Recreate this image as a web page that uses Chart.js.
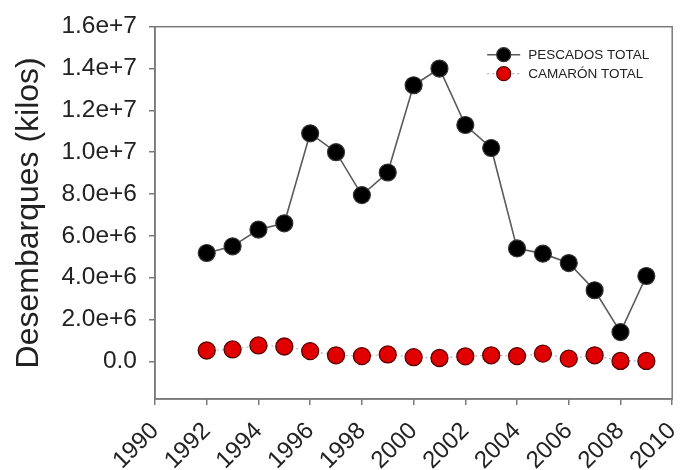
<!DOCTYPE html>
<html>
<head>
<meta charset="utf-8">
<script src="https://cdn.jsdelivr.net/npm/chart.js@4"></script>
<style>
  html, body { margin: 0; padding: 0; background: #fff; }
  #wrap { width: 682px; height: 470px; }
</style>
</head>
<body>
<div id="wrap"><canvas id="myChart" width="682" height="470"></canvas></div>
<script>
// data
const years = [1992, 1993, 1994, 1995, 1996, 1997, 1998, 1999, 2000, 2001, 2002, 2003, 2004, 2005, 2006, 2007, 2008, 2009];
const pescados = [5.18e6, 5.5e6, 6.3e6, 6.6e6, 10.9e6, 10.0e6, 7.95e6, 9.03e6, 13.2e6, 14.0e6, 11.3e6, 10.2e6, 5.4e6, 5.15e6, 4.7e6, 3.4e6, 1.4e6, 4.08e6];
const camaron = [0.52e6, 0.57e6, 0.76e6, 0.71e6, 0.49e6, 0.29e6, 0.25e6, 0.33e6, 0.2e6, 0.16e6, 0.24e6, 0.29e6, 0.25e6, 0.37e6, 0.13e6, 0.29e6, 0.02e6, 0.02e6];
const seriesNames = ["PESCADOS TOTAL", "CAMARÓN TOTAL"];
const xTicks = [1990, 1992, 1994, 1996, 1998, 2000, 2002, 2004, 2006, 2008, 2010];
const yTicks = [0, 2e6, 4e6, 6e6, 8e6, 1e7, 1.2e7, 1.4e7, 1.6e7];
const yTickLabels = ["0.0", "2.0e+6", "4.0e+6", "6.0e+6", "8.0e+6", "1.0e+7", "1.2e+7", "1.4e+7", "1.6e+7"];

const FONT = "'Liberation Sans', Arial, sans-serif";

// frame round the plot area + legend inside it
const framePlugin = {
  id: 'frame',
  afterDraw(chart) {
    const { ctx, chartArea: a } = chart;
    ctx.save();
    ctx.strokeStyle = '#7a7a7a';
    ctx.lineWidth = 1.5;
    ctx.strokeRect(a.left, a.top, a.right - a.left, a.bottom - a.top);

    // legend
    const ds = chart.data.datasets;
    const x0 = a.right - 185, x1 = a.right - 152, mx = (x0 + x1) / 2;
    ds.forEach((d, i) => {
      const y = a.top + 28 + i * 19;
      ctx.beginPath();
      ctx.setLineDash(d.borderDash || []);
      ctx.strokeStyle = d.borderColor;
      ctx.lineWidth = d.borderWidth;
      ctx.moveTo(x0, y);
      ctx.lineTo(x1, y);
      ctx.stroke();
      ctx.setLineDash([]);
      ctx.beginPath();
      ctx.arc(mx, y, 7, 0, Math.PI * 2);
      ctx.fillStyle = d.pointBackgroundColor;
      ctx.fill();
      ctx.lineWidth = 1.2;
      ctx.strokeStyle = d.pointBorderColor;
      ctx.stroke();
      ctx.fillStyle = '#222';
      ctx.font = '13.5px ' + FONT;
      ctx.textBaseline = 'middle';
      ctx.fillText(d.label, x1 + 8, y + 1);
    });
    ctx.restore();
  }
};

const myChartRef = document.getElementById('myChart').getContext('2d');

new Chart(myChartRef, {
  type: 'line',
  data: {
    datasets: [
      {
        label: seriesNames[0],
        data: years.map((yr, i) => ({ x: yr, y: pescados[i] })),
        borderColor: '#5a5a5a',
        borderWidth: 1.6,
        pointRadius: 8.5,
        pointBackgroundColor: '#000',
        pointBorderColor: '#333',
        pointBorderWidth: 1.2,
        tension: 0
      },
      {
        label: seriesNames[1],
        data: years.map((yr, i) => ({ x: yr, y: camaron[i] })),
        borderColor: '#a9b7bf',
        borderWidth: 1.2,
        borderDash: [2, 3],
        pointRadius: 8.5,
        pointBackgroundColor: '#e00000',
        pointBorderColor: '#5a0000',
        pointBorderWidth: 1.3,
        tension: 0
      }
    ]
  },
  options: {
    responsive: false,
    animation: false,
    layout: { padding: { top: 25, right: 8, left: 0, bottom: 0 } },
    plugins: {
      legend: { display: false },
      tooltip: { enabled: false }
    },
    scales: {
      x: {
        type: 'linear',
        min: 1990,
        max: 2010,
        afterFit(scale) {
          scale.height = 71;
          scale.paddingLeft = 0;
          scale.paddingRight = 0;
        },
        afterBuildTicks(scale) { scale.ticks = xTicks.map(v => ({ value: v })); },
        grid: { drawOnChartArea: false, drawTicks: true, tickLength: 6, color: '#7a7a7a', lineWidth: 1.5 },
        border: { display: true, color: '#7a7a7a', width: 1.5 },
        ticks: {
          autoSkip: false,
          maxRotation: 45,
          minRotation: 45,
          padding: 12,
          color: '#222',
          font: { family: FONT, size: 24 },
          callback: v => String(v)
        }
      },
      y: {
        type: 'linear',
        min: -1.8e6,
        max: 1.6e7,
        afterFit(scale) { scale.width = 155; },
        afterBuildTicks(scale) { scale.ticks = yTicks.map(v => ({ value: v })); },
        grid: { drawOnChartArea: false, drawTicks: true, tickLength: 6, color: '#7a7a7a', lineWidth: 1.5 },
        border: { display: true, color: '#7a7a7a', width: 1.5 },
        ticks: {
          padding: 12,
          color: '#222',
          font: { family: FONT, size: 24.5 },
          callback: v => yTickLabels[yTicks.indexOf(v)]
        },
        title: {
          display: true,
          text: 'Desembarques (kilos)',
          color: '#222',
          font: { family: FONT, size: 32 },
          padding: { top: 10, bottom: 0 }
        }
      }
    }
  },
  plugins: [framePlugin]
});
</script>
</body>
</html>
